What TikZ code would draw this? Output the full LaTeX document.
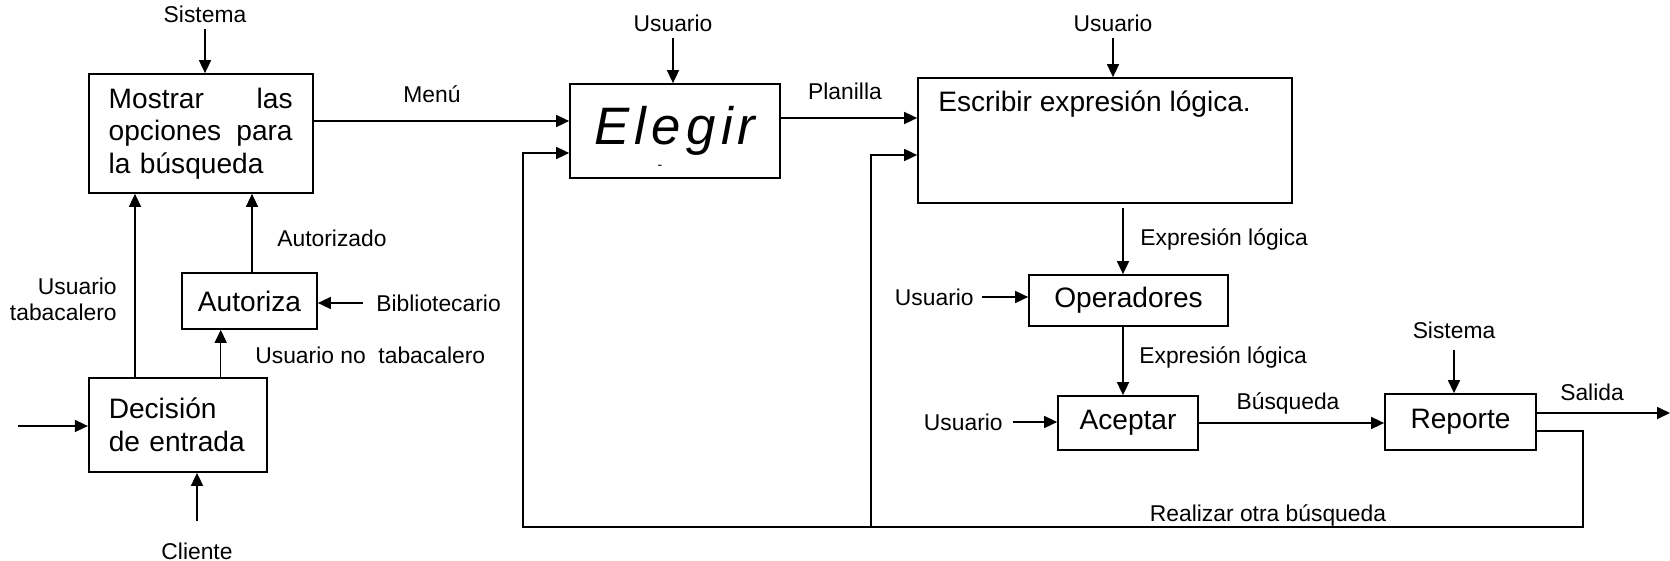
\documentclass[tikz,border=0pt]{standalone}
\usepackage{fontspec}
\setmainfont{Liberation Sans}
\newfontfamily\spacedfont[LetterSpace=10]{Liberation Sans}
\usetikzlibrary{arrows.meta}

\begin{document}
\begin{tikzpicture}[x=0.02cm, y=-0.02cm]

   % Set up styles for the diagram
  \tikzset{
      box/.style={draw, line width=1pt, inner sep=0pt, font=\fontsize{16}{18.5}\selectfont},
      lbl/.style={inner sep=0pt, font=\fontsize{13}{14.8}\selectfont},
      arr/.style={-{Triangle[length=0.26cm, width=0.24cm]}, line width=0.9pt}
  }

  \useasboundingbox (0,0) rectangle (1670,561);

  % process boxes
  \node[box, minimum width=4.48cm, minimum height=2.38cm, text width=3.68cm, align=left] (mostrar) at (200.7,133.5) {Mostrar\hfill las\\ opciones\hfill para\\ la búsqueda};
  \node[box, minimum width=3.57cm, minimum height=1.88cm, text width=2.77cm, align=left] (decision) at (178,425) {Decisión\\ de entrada};
  \node[box, minimum width=2.7cm, minimum height=1.12cm] (autoriza) at (249.5,301) {Autoriza};
  \node[box, minimum width=4.2cm, minimum height=1.88cm, font=\fontsize{30}{32}\selectfont\spacedfont\itshape] (elegir) at (675,131) {Elegir};
  \node[lbl, font=\fontsize{8}{9}\selectfont] (guion) at (660,167) {-};
  \node[box, minimum width=7.48cm, minimum height=2.5cm] (escribir) at (1105,140.5) {};
  \node[lbl, font=\fontsize{16}{18.5}\selectfont, anchor=west] (escribirtxt) at (938,104) {Escribir expresión lógica.};
  \node[box, minimum width=3.98cm, minimum height=1.02cm] (oper) at (1128.5,300.5) {Operadores};
  \node[box, minimum width=2.8cm, minimum height=1.08cm] (aceptar) at (1128,423) {Aceptar};
  \node[box, minimum width=3.02cm, minimum height=1.12cm] (reporte) at (1460.5,422) {Reporte};

  % labels
  \node[lbl] (sistemaA) at (205,14) {Sistema};
  \node[lbl] (menu) at (432,94) {Menú};
  \node[lbl] (usuarioA) at (673,23) {Usuario};
  \node[lbl] (planilla) at (845,91) {Planilla};
  \node[lbl] (usuarioB) at (1113,23) {Usuario};
  \node[lbl, anchor=west] (exprA) at (1140,239) {Expresión lógica};
  \node[lbl, anchor=east] (usuarioC) at (974,297) {Usuario};
  \node[lbl, anchor=west] (exprB) at (1139,357) {Expresión lógica};
  \node[lbl, anchor=east] (usuarioD) at (1003,422) {Usuario};
  \node[lbl] (busqueda) at (1288,403) {Búsqueda};
  \node[lbl] (sistemaB) at (1454,330) {Sistema};
  \node[lbl] (salida) at (1592,392) {Salida};
  \node[lbl] (otra) at (1268,515) {Realizar otra búsqueda};
  \node[lbl, anchor=west] (autorizado) at (277,238) {Autorizado};
  \node[lbl, anchor=west] (biblio) at (376,303) {Bibliotecario};
  \node[lbl, anchor=west] (usuno) at (255,355) {Usuario no\ \ tabacalero};
  \node[lbl, anchor=east, align=right] (usutab) at (117,299) {Usuario\\ tabacalero};
  \node[lbl] (cliente) at (197,551) {Cliente};

  % ports and corners
  \coordinate (entrada) at (18,426);
  \coordinate (tabx) at (135,0);
  \coordinate (noTabx) at (220.7,0);
  \coordinate (autx) at (252,0);
  \coordinate (exprx) at (1123,0);
  \coordinate (salidaEnd) at (1670,413);
  \coordinate (vueltaR) at (1583,527);
  \coordinate (vueltaM) at (871,527);
  \coordinate (vueltaL) at (523,527);
  \coordinate (elegirA) at ([yshift=0.2cm]elegir.west);
  \coordinate (elegirB) at ([yshift=-0.44cm]elegir.west);
  \coordinate (escribirA) at ([yshift=0.45cm]escribir.west);
  \coordinate (escribirB) at ([yshift=-0.29cm]escribir.west);
  \coordinate (reporteA) at ([yshift=0.18cm]reporte.east);
  \coordinate (reporteB) at ([yshift=-0.18cm]reporte.east);

  % left part
  \draw[arr, shorten <=0.12cm] (sistemaA.south) -- (sistemaA.south |- mostrar.north);
  \draw[arr] (entrada) -- (entrada -| decision.west);
  \draw[arr, shorten <=0.42cm] (cliente.north) -- (cliente.north |- decision.south);
  \draw[arr] (decision.north -| tabx) -- (mostrar.south -| tabx);
  \draw[arr] (decision.north -| noTabx) -- (autoriza.south -| noTabx);
  \draw[arr] (autoriza.north -| autx) -- (mostrar.south -| autx);
  \draw[arr, shorten <=0.26cm] (biblio.west) -- (autoriza.east |- biblio.west);

  % middle and right part
  \draw[arr] (mostrar.east |- elegirA) -- (elegirA);
  \draw[arr] (elegir.east |- escribirA) -- (escribirA);
  \draw[arr, shorten <=0.12cm] (usuarioA.south) -- (usuarioA.south |- elegir.north);
  \draw[arr, shorten <=0.12cm] (usuarioB.south) -- (usuarioB.south |- escribir.north);
  \draw[arr, shorten <=0.08cm] (escribir.south -| exprx) -- (oper.north -| exprx);
  \draw[arr] (oper.south -| exprx) -- (aceptar.north -| exprx);
  \draw[arr, shorten <=0.16cm] (usuarioC.east) -- (oper.west |- usuarioC.east);
  \draw[arr, shorten <=0.2cm] (usuarioD.east) -- (aceptar.west |- usuarioD.east);
  \draw[arr] (aceptar.east) -- (aceptar.east -| reporte.west);
  \draw[arr, shorten <=0.22cm] (sistemaB.south) -- (sistemaB.south |- reporte.north);
  \draw[arr] (reporteA) -- (salidaEnd);

  % return loop
  \draw[arr] (reporteB) -| (vueltaR) -- (vueltaL) |- (elegirB);
  \draw[arr] (vueltaM) |- (escribirB);

\end{tikzpicture}
\end{document}
